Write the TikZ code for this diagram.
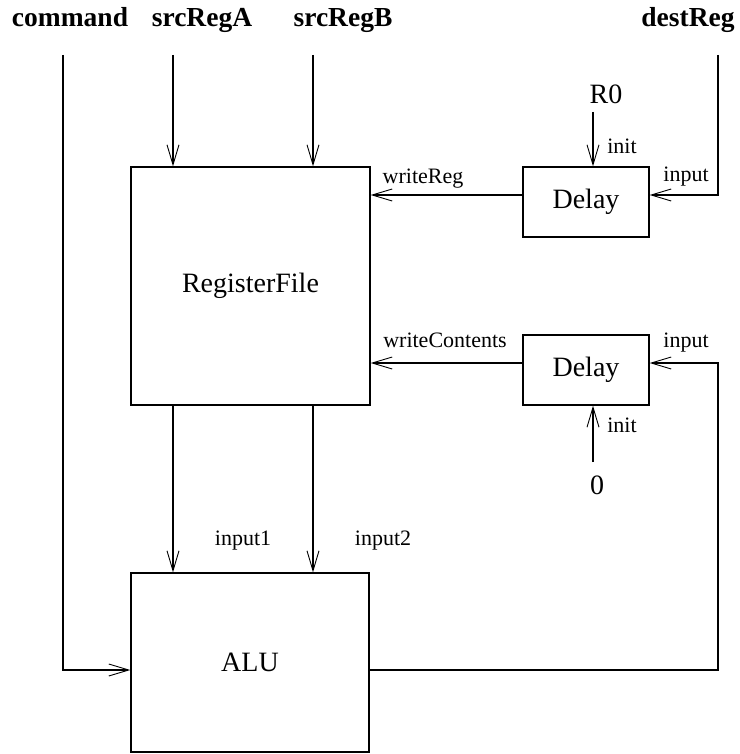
\documentclass[tikz,border=0pt]{standalone}
\usepackage{fontspec}
\setmainfont{Liberation Serif}
\usetikzlibrary{arrows.meta}
\begin{document}
\begin{tikzpicture}[x=1pt,y=-1pt,line width=1.3pt,
  box/.style={draw,rectangle,inner sep=0pt,font=\fontsize{28}{30}\selectfont},
  lbl/.style={inner sep=0pt,anchor=base,font=\fontsize{22}{24}\selectfont},
  big/.style={inner sep=0pt,anchor=base,font=\fontsize{28}{30}\selectfont},
  toplbl/.style={inner sep=0pt,anchor=base,font=\fontsize{27.5}{30}\selectfont\bfseries},
  arr/.style={-{Straight Barb[length=20pt,width=12pt,line width=0.9pt]}}]
\useasboundingbox (0,0) rectangle (739,754);
% boxes
\node[box,minimum width=239pt,minimum height=238pt] (rf) at (250.5,286) {RegisterFile};
\node[box,minimum width=238pt,minimum height=179pt] (alu) at (250,662.5) {ALU};
\node[box,minimum width=126pt,minimum height=70pt] (d1) at (586,202) {Delay};
\node[box,minimum width=126pt,minimum height=70pt] (d2) at (586,370) {Delay};
% top labels
\node[toplbl] (cmd) at (70,27) {command};
\node[toplbl] (sra) at (202,27) {srcRegA};
\node[toplbl] (srb) at (343,27) {srcRegB};
\node[toplbl] (dst) at (688,27) {destReg};
% constants
\node[big] (r0) at (606,104) {R0};
\node[big] (zero) at (597,494) {0};
% port labels
\node[lbl] (lwr) at (423,183) {writeReg};
\node[lbl] (lin1) at (686,182) {input};
\node[lbl] (lini1) at (622,154) {init};
\node[lbl] (lwc) at (445,347) {writeContents};
\node[lbl] (lin2) at (686,347) {input};
\node[lbl] (lini2) at (622,432) {init};
\node[lbl] (li1) at (243,545) {input1};
\node[lbl] (li2) at (383,545) {input2};
% connector end points
\coordinate (c0) at (63,55);
\coordinate (a0) at (173,55);
\coordinate (b0) at (313,55);
\coordinate (e0) at (718,55);
\coordinate (e1) at (718,195);
\coordinate (r0s) at (593,112);
\coordinate (z0s) at (593,462);
\coordinate (o1) at (718,670);
\coordinate (o2) at (718,363);
\coordinate (rfA) at (173,405);
\coordinate (rfB) at (313,405);
% connectors
\draw[arr] (c0) -- (c0 |- o1) -- (alu.west |- o1);
\draw[arr] (a0) -- (a0 |- rf.north);
\draw[arr] (b0) -- (b0 |- rf.north);
\draw[arr] (e0) -- (e1) -- (d1.east |- e1);
\draw[arr] (r0s) -- (r0s |- d1.north);
\draw[arr] (z0s) -- (z0s |- d2.south);
\draw[arr] (d1.west |- e1) -- (rf.east |- e1);
\draw[arr] (d2.west |- o2) -- (rf.east |- o2);
\draw[arr] (rfA) -- (rfA |- alu.north);
\draw[arr] (rfB) -- (rfB |- alu.north);
\draw[arr] (alu.east |- o1) -- (o1) -- (o2) -- (d2.east |- o2);
\end{tikzpicture}
\end{document}
